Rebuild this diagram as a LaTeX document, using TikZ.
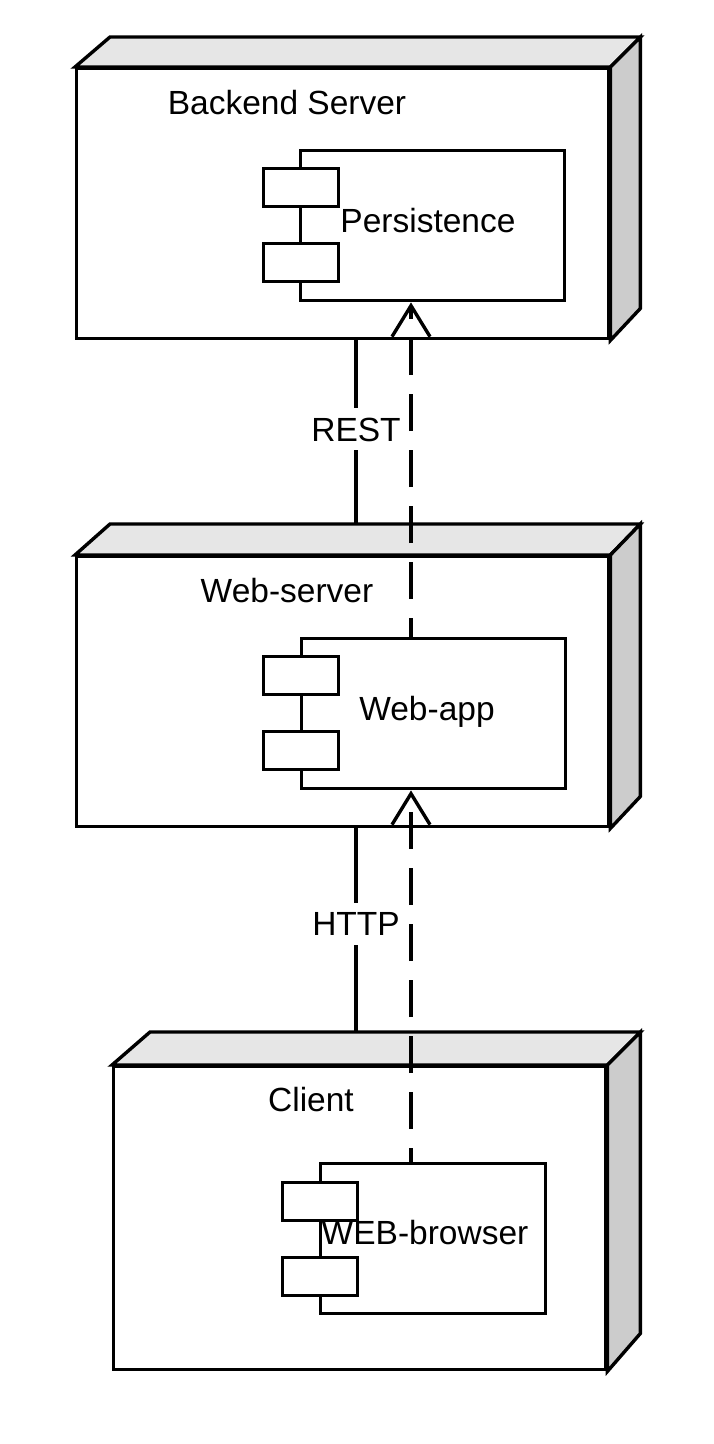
\documentclass[tikz,border=0pt]{standalone}
\usepackage{fontspec}
\setmainfont{Liberation Sans}
\usetikzlibrary{calc,arrows.meta}
\definecolor{topface}{HTML}{E6E6E6}
\definecolor{sideface}{HTML}{CCCCCC}
\begin{document}
\begin{tikzpicture}[x=1pt,y=-1pt,line width=3.4pt,
  every node/.style={font=\fontsize{33.5}{40}\selectfont},
  front/.style={draw,fill=white,inner sep=0pt,anchor=north west},
  comp/.style={draw,fill=white,inner sep=0pt,minimum width=264pt,minimum height=150pt,anchor=north west},
  port/.style={draw,fill=white,inner sep=0pt,minimum width=75pt,minimum height=38pt,anchor=north west},
  txt/.style={inner sep=0pt,text height=24pt,text depth=0pt},
  lbl/.style={fill=white,inner sep=9pt,text height=24pt,text depth=0pt},
  dep/.style={dash pattern=on 37pt off 19pt,
    -{Straight Barb[length=31pt,width=38pt,line width=3.4pt]}},
  tface/.style={draw,fill=topface},
  sface/.style={draw,fill=sideface}]
\useasboundingbox (0,0) rectangle (713,1444);

% --- deployment nodes (front face, then top and side faces) ---
\node[front,minimum width=532pt,minimum height=270pt] (backend) at (75,67) {};
\draw[tface] (backend.north west) -- ++(35,-30) -- ($(backend.north east)+(30,-30)$) -- (backend.north east) -- cycle;
\draw[sface] (backend.north east) -- ++(30,-30) -- ($(backend.south east)+(30,-32)$) -- (backend.south east) -- cycle;

\node[front,minimum width=532pt,minimum height=270pt] (webserver) at (75,555) {};
\draw[tface] (webserver.north west) -- ++(35,-31) -- ($(webserver.north east)+(30,-31)$) -- (webserver.north east) -- cycle;
\draw[sface] (webserver.north east) -- ++(30,-31) -- ($(webserver.south east)+(30,-32)$) -- (webserver.south east) -- cycle;
\coordinate (webservertop) at ($(webserver.north west)+(35,-31)$);

\node[front,minimum width=492pt,minimum height=303pt] (client) at (112,1065) {};
\draw[tface] (client.north west) -- ++(38,-33) -- ($(client.north east)+(33,-33)$) -- (client.north east) -- cycle;
\draw[sface] (client.north east) -- ++(33,-33) -- ($(client.south east)+(33,-38)$) -- (client.south east) -- cycle;
\coordinate (clienttop) at ($(client.north west)+(38,-33)$);

\node[txt] (backendlabel) at (287,102) {Backend Server};
\node[txt] (webserverlabel) at (287,590) {Web-server};
\node[txt] (clientlabel) at (311,1099) {Client};

% --- components ---
\node[comp] (persist) at (299,149) {};
\node[port] (persistA) at ($(persist.north west)+(-37,18)$) {};
\node[port] (persistB) at ($(persist.north west)+(-37,93)$) {};
\node[txt] (persistlabel) at (428,220) {Persistence};

\node[comp] (webapp) at (300,637) {};
\node[port] (webappA) at ($(webapp.north west)+(-38,18)$) {};
\node[port] (webappB) at ($(webapp.north west)+(-38,93)$) {};
\node[txt] (webapplabel) at (427,708) {Web-app};

\node[comp,minimum width=225pt] (browser) at (319,1162) {};
\node[port] (browserA) at ($(browser.north west)+(-38,19)$) {};
\node[port] (browserB) at ($(browser.north west)+(-38,94)$) {};
\node[txt] (browserlabel) at (425,1232) {WEB-browser};

% --- communication paths ---
\coordinate (linkx) at (356,0);
\coordinate (depx) at (411,0);
\draw (backend.south -| linkx) -- node[lbl,pos=0.484] (rest) {REST} (webservertop -| linkx);
\draw (webserver.south -| linkx) -- node[lbl,pos=0.469] (http) {HTTP} (clienttop -| linkx);

% --- dependencies ---
\draw[dep,dash phase=18pt] (webapp.north -| depx) -- (persist.south -| depx);
\draw[dep,dash phase=23pt] (browser.north -| depx) -- (webapp.south -| depx);
\end{tikzpicture}
\end{document}
